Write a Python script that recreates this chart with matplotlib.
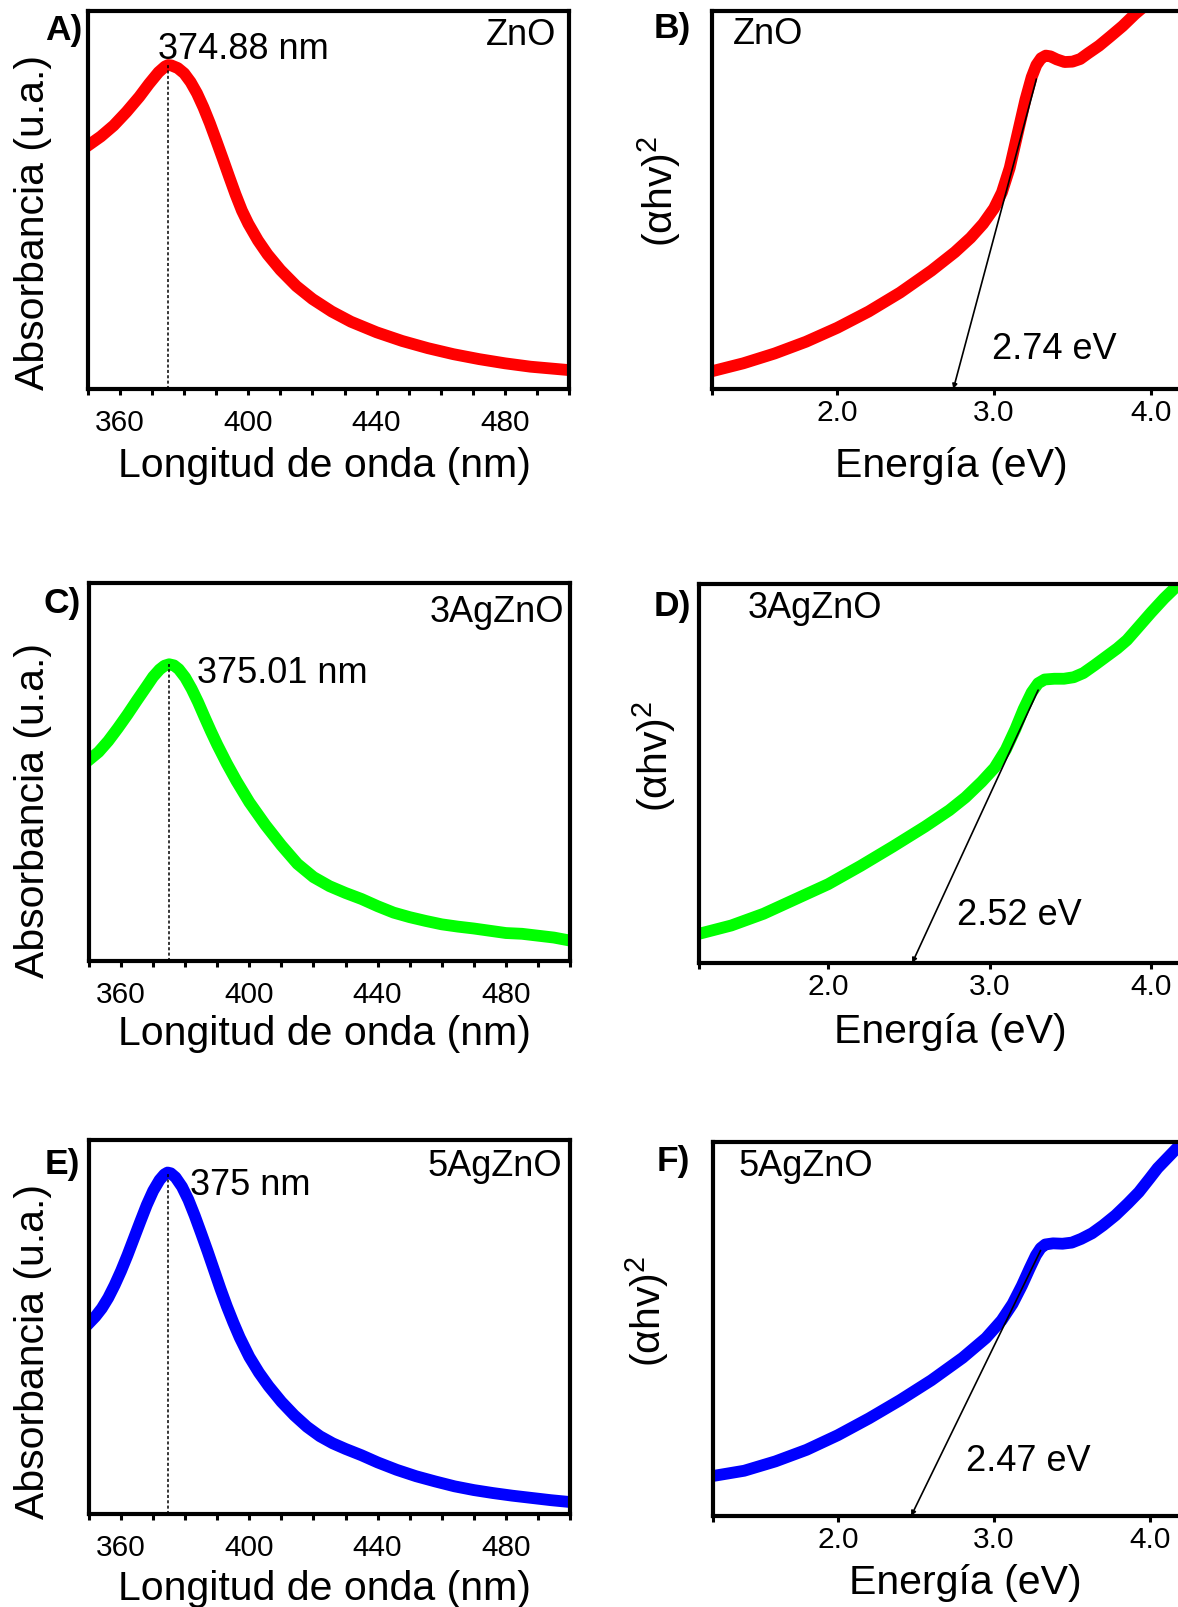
import numpy as np
import matplotlib
matplotlib.use('Agg')
import matplotlib.pyplot as plt
from matplotlib.ticker import FixedLocator, FormatStrFormatter

plt.rcParams['font.family'] = ['Liberation Sans', 'DejaVu Sans']

W, H = 1178, 1608

# --- absorbance spectra (arbitrary units, 0-1 of the axis) ---
wl_zno = [350, 354, 358, 362, 366, 369, 372, 374, 375, 376, 378, 380, 382, 384, 386, 388, 390, 392,
          394, 396, 398, 400, 403, 406, 410, 415, 420, 426, 432, 440, 448, 456, 464, 472, 480, 488,
          496, 500]
abs_zno = [0.644, 0.668, 0.697, 0.733, 0.773, 0.807, 0.838, 0.853, 0.857, 0.856, 0.849, 0.835, 0.812,
           0.782, 0.745, 0.703, 0.657, 0.610, 0.562, 0.515, 0.472, 0.437, 0.393, 0.356, 0.315, 0.272,
           0.238, 0.205, 0.178, 0.150, 0.127, 0.108, 0.092, 0.079, 0.068, 0.059, 0.053, 0.050]

wl_3ag = [350, 353, 356, 359, 362, 365, 368, 370, 372, 373.5, 375, 376.5, 378, 380, 382, 384, 386,
          388, 390, 393, 396, 400, 405, 410, 415, 420, 425, 430, 435, 440, 445, 450, 455, 460, 465,
          470, 475, 480, 485, 490, 495, 500]
abs_3ag = [0.532, 0.553, 0.582, 0.616, 0.652, 0.690, 0.727, 0.752, 0.771, 0.781, 0.785, 0.782, 0.772,
           0.750, 0.720, 0.685, 0.646, 0.608, 0.572, 0.522, 0.476, 0.420, 0.360, 0.306, 0.257, 0.222,
           0.198, 0.180, 0.164, 0.145, 0.128, 0.116, 0.106, 0.097, 0.091, 0.086, 0.080, 0.074, 0.072,
           0.067, 0.062, 0.054]

wl_5ag = [350, 352, 354, 356, 358, 360, 362, 364, 366, 368, 370, 372, 373.5, 374.5, 375.5, 377, 379,
          381, 383, 385, 387, 389, 391, 393, 395, 397, 400, 403, 406, 410, 414, 418, 422, 426, 430,
          435, 440, 446, 452, 458, 464, 470, 476, 482, 488, 494, 500]
abs_5ag = [0.510, 0.528, 0.550, 0.578, 0.612, 0.650, 0.692, 0.737, 0.782, 0.826, 0.864, 0.893, 0.908,
           0.913, 0.911, 0.900, 0.875, 0.840, 0.797, 0.750, 0.702, 0.652, 0.602, 0.555, 0.512, 0.472,
           0.420, 0.378, 0.342, 0.300, 0.264, 0.233, 0.208, 0.189, 0.174, 0.157, 0.138, 0.118, 0.101,
           0.087, 0.074, 0.064, 0.056, 0.049, 0.043, 0.037, 0.032]

# --- Tauc plots (alpha h nu)^2 vs energy ---
e_zno = [1.2, 1.4, 1.6, 1.8, 2.0, 2.2, 2.4, 2.6, 2.75, 2.85, 2.93, 3.0, 3.05, 3.1, 3.15, 3.2, 3.24,
         3.27, 3.30, 3.33, 3.36, 3.40, 3.45, 3.5, 3.55, 3.6, 3.67, 3.74, 3.82, 3.9, 3.98, 4.1]
t_zno = [0.047, 0.068, 0.094, 0.125, 0.162, 0.205, 0.255, 0.313, 0.362, 0.400, 0.437, 0.478, 0.520,
         0.585, 0.675, 0.765, 0.825, 0.857, 0.875, 0.882, 0.880, 0.872, 0.865, 0.866, 0.873, 0.888,
         0.908, 0.932, 0.960, 0.992, 1.02, 1.08]

e_3ag = [1.2, 1.4, 1.6, 1.8, 2.0, 2.2, 2.4, 2.6, 2.75, 2.85, 2.95, 3.03, 3.1, 3.16, 3.21, 3.26, 3.30,
         3.34, 3.4, 3.46, 3.52, 3.58, 3.65, 3.72, 3.79, 3.85, 3.92, 4.0, 4.08, 4.16, 4.3]
t_3ag = [0.077, 0.099, 0.130, 0.169, 0.208, 0.256, 0.307, 0.360, 0.403, 0.437, 0.478, 0.515, 0.563,
         0.618, 0.670, 0.714, 0.738, 0.748, 0.750, 0.750, 0.754, 0.765, 0.786, 0.808, 0.830, 0.852,
         0.886, 0.925, 0.962, 0.995, 1.05]

e_5ag = [1.2, 1.4, 1.6, 1.8, 2.0, 2.2, 2.4, 2.6, 2.8, 2.95, 3.05, 3.12, 3.18, 3.23, 3.27, 3.30, 3.33,
         3.38, 3.44, 3.5, 3.56, 3.63, 3.7, 3.78, 3.86, 3.93, 4.0, 4.05, 4.17, 4.3]
t_5ag = [0.107, 0.121, 0.146, 0.177, 0.216, 0.261, 0.310, 0.363, 0.423, 0.476, 0.523, 0.567, 0.616,
         0.662, 0.697, 0.716, 0.726, 0.729, 0.728, 0.731, 0.741, 0.756, 0.777, 0.804, 0.836, 0.866,
         0.903, 0.930, 0.982, 1.04]

# band gaps and upper end of the fitted line
gaps = [2.74, 2.52, 2.47]
fit_top = [(3.27, 0.82), (3.30, 0.72), (3.30, 0.71)]

fig = plt.figure(figsize=(W / 100, H / 100), dpi=100)


def box(l, t, r, b):
    return [l / W, 1 - b / H, (r - l) / W, (b - t) / H]


def ftext(x, y, s, **kw):
    fig.text(x / W, 1 - y / H, s, **kw)


def style(ax, major, minor, pad):
    for sp in ax.spines.values():
        sp.set_linewidth(3)
    ax.set_yticks([])
    ax.set_ylim(0, 1)
    ax.xaxis.set_major_locator(FixedLocator(major))
    ax.xaxis.set_minor_locator(FixedLocator(minor))
    ax.tick_params(axis='x', which='both', direction='out', length=4.5, width=2.2,
                   pad=pad, labelsize=21.5)


def abs_panel(rect, wl, a, color, peak_txt, txt_xy, name, name_off):
    ax = fig.add_axes(rect)
    ax.plot(wl, a, color=color, lw=8.5, solid_joinstyle='round')
    i = int(np.argmax(a))
    ax.plot([wl[i], wl[i]], [0, a[i]], color='black', lw=1.1, ls=(0, (2, 1.5)))
    ax.set_xlim(350, 500)
    ax.text(txt_xy[0], txt_xy[1], peak_txt, fontsize=26, ha='left', va='center')
    ax.annotate(name, xy=(1, 1), xycoords='axes fraction', xytext=name_off,
                textcoords='offset pixels', ha='right', va='center', fontsize=26)
    style(ax, [360, 400, 440, 480], list(range(350, 501, 10)), 9)
    return ax


def tauc_panel(rect, e, t, color, gap, top, txt_xy, name, name_off):
    ax = fig.add_axes(rect)
    ax.plot(e, t, color=color, lw=8.5, solid_joinstyle='round')
    ax.annotate('', xy=(gap, 0), xytext=top,
                arrowprops=dict(arrowstyle='-|>', color='black', lw=1.2,
                                mutation_scale=7, shrinkA=0, shrinkB=0), zorder=5)
    ax.set_xlim(1.2, 4.4)
    ax.text(txt_xy[0], txt_xy[1], '%.2f eV' % gap, fontsize=26, ha='left', va='center')
    ax.annotate(name, xy=(0, 1), xycoords='axes fraction', xytext=name_off,
                textcoords='offset pixels', ha='left', va='center', fontsize=26)
    style(ax, [2.0, 3.0, 4.0], [1.2], 2)
    ax.xaxis.set_major_formatter(FormatStrFormatter('%.1f'))
    return ax


abs_panel(box(88, 12, 569, 390), wl_zno, abs_zno, '#ff0000', '374.88 nm', (371.9, 0.9),
          'ZnO', (-13, -24))
abs_panel(box(89, 584, 570, 962), wl_3ag, abs_3ag, '#00ff00', '375.01 nm', (383.8, 0.762),
          '3AgZnO', (-6, -29))
abs_panel(box(89, 1141, 570, 1515), wl_5ag, abs_5ag, '#0000ff', '375 nm', (381.5, 0.882),
          '5AgZnO', (-8, -26))

tauc_panel(box(712, 12, 712 + 3.2 * 156.7, 390), e_zno, t_zno, '#ff0000', gaps[0], fit_top[0],
           (2.99, 0.106), 'ZnO', (21, -23))
tauc_panel(box(699, 585, 699 + 3.2 * 161.5, 964), e_3ag, t_3ag, '#00ff00', gaps[1], fit_top[1],
           (2.80, 0.127), '3AgZnO', (49, -24))
tauc_panel(box(713, 1143, 713 + 3.2 * 156, 1517), e_5ag, t_5ag, '#0000ff', gaps[2], fit_top[2],
           (2.82, 0.148), '5AgZnO', (26, -24))

# panel letters
for s, x, y in [('A)', 82, 14), ('C)', 81, 587), ('E)', 80, 1148),
                ('B)', 691, 12), ('D)', 691, 590), ('F)', 690, 1145)]:
    ftext(x, y, s, fontsize=25.5, fontweight='bold', ha='right', va='top')

# axis titles
for y in [223, 811, 1352]:
    ftext(33, y, 'Absorbancia (u.a.)', fontsize=29.5, rotation=90, ha='center', va='center')
for x, y in [(659, 191), (654, 756), (647, 1311)]:
    ftext(x, y, r'(αhv)$^{\mathregular{2}}$', fontsize=29.5, rotation=90,
          ha='center', va='center')
for y in [477, 1045, 1600]:
    ftext(324, y, 'Longitud de onda (nm)', fontsize=29.5, ha='center', va='baseline')
for x, y in [(951, 477), (950, 1043), (965, 1594)]:
    ftext(x, y, 'Energía (eV)', fontsize=29.5, ha='center', va='baseline')

fig.savefig('out.png', dpi=100)
